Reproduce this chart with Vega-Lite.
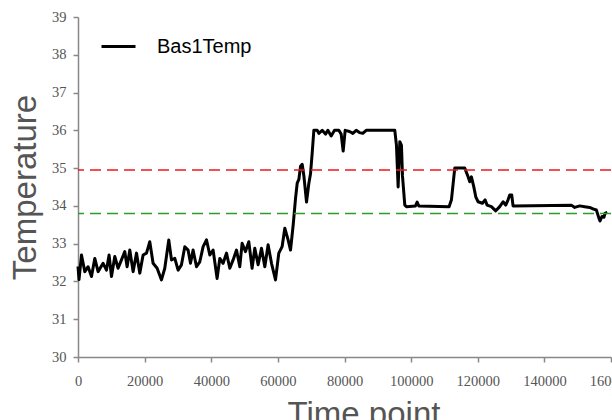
{
  "$schema": "https://vega.github.io/schema/vega-lite/v6.json",
  "width": 533,
  "height": 340,
  "autosize": {"type": "none"},
  "padding": {"left": 78, "top": 17, "right": 1, "bottom": 63},
  "background": "white",
  "config": {
    "view": {"stroke": null},
    "axis": {
      "grid": false,
      "domainColor": "#888888",
      "domainWidth": 1.5,
      "tickColor": "#888888",
      "tickWidth": 1.5,
      "tickSize": 5,
      "labelOverlap": false,
      "labelFont": "Liberation Serif",
      "labelFontSize": 14.5,
      "labelColor": "#555555",
      "titleFont": "Liberation Sans",
      "titleFontSize": 33,
      "titleFontWeight": "normal",
      "titleColor": "#555555"
    }
  },
  "encoding": {
    "y": {
      "field": "v",
      "type": "quantitative",
      "scale": {"domain": [30, 39], "nice": false, "zero": false},
      "axis": {
        "values": [30, 31, 32, 33, 34, 35, 36, 37, 38, 39],
        "tickCount": 10,
        "labelOverlap": false,
        "format": "d",
        "labelPadding": 7,
        "title": "Temperature",
        "titleX": -43,
        "titleY": 170,
        "titleAngle": 270,
        "titleAlign": "center",
        "titleBaseline": "alphabetic"
      }
    }
  },
  "layer": [
    {
      "data": {
        "values": [
          {"t": 0, "v": 32.4, "s": "Bas1Temp"},
          {"t": 300, "v": 32.05, "s": "Bas1Temp"},
          {"t": 1050, "v": 32.7, "s": "Bas1Temp"},
          {"t": 2040, "v": 32.26, "s": "Bas1Temp"},
          {"t": 3030, "v": 32.39, "s": "Bas1Temp"},
          {"t": 4050, "v": 32.13, "s": "Bas1Temp"},
          {"t": 5040, "v": 32.61, "s": "Bas1Temp"},
          {"t": 6030, "v": 32.26, "s": "Bas1Temp"},
          {"t": 7530, "v": 32.48, "s": "Bas1Temp"},
          {"t": 8550, "v": 32.3, "s": "Bas1Temp"},
          {"t": 9330, "v": 32.7, "s": "Bas1Temp"},
          {"t": 10050, "v": 32.13, "s": "Bas1Temp"},
          {"t": 11040, "v": 32.66, "s": "Bas1Temp"},
          {"t": 12030, "v": 32.35, "s": "Bas1Temp"},
          {"t": 13050, "v": 32.57, "s": "Bas1Temp"},
          {"t": 14040, "v": 32.79, "s": "Bas1Temp"},
          {"t": 14740, "v": 32.39, "s": "Bas1Temp"},
          {"t": 15550, "v": 32.83, "s": "Bas1Temp"},
          {"t": 16540, "v": 32.26, "s": "Bas1Temp"},
          {"t": 17560, "v": 32.75, "s": "Bas1Temp"},
          {"t": 18550, "v": 32.22, "s": "Bas1Temp"},
          {"t": 19540, "v": 32.7, "s": "Bas1Temp"},
          {"t": 20560, "v": 32.75, "s": "Bas1Temp"},
          {"t": 21550, "v": 33.05, "s": "Bas1Temp"},
          {"t": 22540, "v": 32.48, "s": "Bas1Temp"},
          {"t": 23750, "v": 32.35, "s": "Bas1Temp"},
          {"t": 25060, "v": 32.04, "s": "Bas1Temp"},
          {"t": 26050, "v": 32.35, "s": "Bas1Temp"},
          {"t": 27250, "v": 33.1, "s": "Bas1Temp"},
          {"t": 28060, "v": 32.57, "s": "Bas1Temp"},
          {"t": 29060, "v": 32.61, "s": "Bas1Temp"},
          {"t": 30050, "v": 32.3, "s": "Bas1Temp"},
          {"t": 31060, "v": 32.44, "s": "Bas1Temp"},
          {"t": 32060, "v": 32.92, "s": "Bas1Temp"},
          {"t": 33050, "v": 32.83, "s": "Bas1Temp"},
          {"t": 33770, "v": 32.48, "s": "Bas1Temp"},
          {"t": 34550, "v": 32.83, "s": "Bas1Temp"},
          {"t": 35570, "v": 32.39, "s": "Bas1Temp"},
          {"t": 36560, "v": 32.52, "s": "Bas1Temp"},
          {"t": 37560, "v": 32.92, "s": "Bas1Temp"},
          {"t": 38570, "v": 33.1, "s": "Bas1Temp"},
          {"t": 39570, "v": 32.7, "s": "Bas1Temp"},
          {"t": 40560, "v": 32.83, "s": "Bas1Temp"},
          {"t": 41760, "v": 32.08, "s": "Bas1Temp"},
          {"t": 42570, "v": 32.61, "s": "Bas1Temp"},
          {"t": 43560, "v": 32.48, "s": "Bas1Temp"},
          {"t": 44580, "v": 32.75, "s": "Bas1Temp"},
          {"t": 45570, "v": 32.35, "s": "Bas1Temp"},
          {"t": 46560, "v": 32.57, "s": "Bas1Temp"},
          {"t": 47580, "v": 32.83, "s": "Bas1Temp"},
          {"t": 48570, "v": 32.39, "s": "Bas1Temp"},
          {"t": 49260, "v": 33.01, "s": "Bas1Temp"},
          {"t": 50280, "v": 32.79, "s": "Bas1Temp"},
          {"t": 51270, "v": 33.05, "s": "Bas1Temp"},
          {"t": 52260, "v": 32.35, "s": "Bas1Temp"},
          {"t": 53070, "v": 32.88, "s": "Bas1Temp"},
          {"t": 54070, "v": 32.44, "s": "Bas1Temp"},
          {"t": 55080, "v": 32.88, "s": "Bas1Temp"},
          {"t": 56080, "v": 32.39, "s": "Bas1Temp"},
          {"t": 57070, "v": 32.97, "s": "Bas1Temp"},
          {"t": 58090, "v": 32.48, "s": "Bas1Temp"},
          {"t": 59290, "v": 32.04, "s": "Bas1Temp"},
          {"t": 60280, "v": 32.75, "s": "Bas1Temp"},
          {"t": 61270, "v": 32.92, "s": "Bas1Temp"},
          {"t": 62080, "v": 33.41, "s": "Bas1Temp"},
          {"t": 63070, "v": 33.1, "s": "Bas1Temp"},
          {"t": 63800, "v": 32.83, "s": "Bas1Temp"},
          {"t": 64600, "v": 33.5, "s": "Bas1Temp"},
          {"t": 65300, "v": 34.2, "s": "Bas1Temp"},
          {"t": 65800, "v": 34.6, "s": "Bas1Temp"},
          {"t": 66300, "v": 34.7, "s": "Bas1Temp"},
          {"t": 66800, "v": 35.05, "s": "Bas1Temp"},
          {"t": 67300, "v": 35.1, "s": "Bas1Temp"},
          {"t": 67800, "v": 34.8, "s": "Bas1Temp"},
          {"t": 68600, "v": 34.1, "s": "Bas1Temp"},
          {"t": 69300, "v": 34.6, "s": "Bas1Temp"},
          {"t": 69800, "v": 34.85, "s": "Bas1Temp"},
          {"t": 70300, "v": 35.4, "s": "Bas1Temp"},
          {"t": 70800, "v": 36.0, "s": "Bas1Temp"},
          {"t": 71800, "v": 36.0, "s": "Bas1Temp"},
          {"t": 72300, "v": 35.92, "s": "Bas1Temp"},
          {"t": 73300, "v": 36.0, "s": "Bas1Temp"},
          {"t": 74300, "v": 35.9, "s": "Bas1Temp"},
          {"t": 75000, "v": 36.0, "s": "Bas1Temp"},
          {"t": 76000, "v": 35.85, "s": "Bas1Temp"},
          {"t": 77000, "v": 36.0, "s": "Bas1Temp"},
          {"t": 78300, "v": 36.0, "s": "Bas1Temp"},
          {"t": 79000, "v": 35.9, "s": "Bas1Temp"},
          {"t": 79600, "v": 35.45, "s": "Bas1Temp"},
          {"t": 80200, "v": 36.0, "s": "Bas1Temp"},
          {"t": 81500, "v": 35.97, "s": "Bas1Temp"},
          {"t": 82500, "v": 35.92, "s": "Bas1Temp"},
          {"t": 83500, "v": 36.0, "s": "Bas1Temp"},
          {"t": 84500, "v": 35.94, "s": "Bas1Temp"},
          {"t": 85500, "v": 35.92, "s": "Bas1Temp"},
          {"t": 86500, "v": 36.0, "s": "Bas1Temp"},
          {"t": 95100, "v": 36.0, "s": "Bas1Temp"},
          {"t": 95600, "v": 35.6, "s": "Bas1Temp"},
          {"t": 96100, "v": 34.5, "s": "Bas1Temp"},
          {"t": 96600, "v": 35.7, "s": "Bas1Temp"},
          {"t": 97100, "v": 35.6, "s": "Bas1Temp"},
          {"t": 97400, "v": 34.8, "s": "Bas1Temp"},
          {"t": 98100, "v": 34.02, "s": "Bas1Temp"},
          {"t": 98600, "v": 33.98, "s": "Bas1Temp"},
          {"t": 101300, "v": 34.0, "s": "Bas1Temp"},
          {"t": 101800, "v": 34.1, "s": "Bas1Temp"},
          {"t": 102300, "v": 34.0, "s": "Bas1Temp"},
          {"t": 111400, "v": 33.98, "s": "Bas1Temp"},
          {"t": 112100, "v": 34.16, "s": "Bas1Temp"},
          {"t": 113100, "v": 35.0, "s": "Bas1Temp"},
          {"t": 116100, "v": 35.0, "s": "Bas1Temp"},
          {"t": 117100, "v": 34.77, "s": "Bas1Temp"},
          {"t": 117600, "v": 34.64, "s": "Bas1Temp"},
          {"t": 118100, "v": 34.77, "s": "Bas1Temp"},
          {"t": 118800, "v": 34.51, "s": "Bas1Temp"},
          {"t": 119400, "v": 34.24, "s": "Bas1Temp"},
          {"t": 120100, "v": 34.11, "s": "Bas1Temp"},
          {"t": 121400, "v": 34.07, "s": "Bas1Temp"},
          {"t": 122200, "v": 34.16, "s": "Bas1Temp"},
          {"t": 122800, "v": 34.02, "s": "Bas1Temp"},
          {"t": 124100, "v": 33.98, "s": "Bas1Temp"},
          {"t": 125400, "v": 33.87, "s": "Bas1Temp"},
          {"t": 126600, "v": 33.98, "s": "Bas1Temp"},
          {"t": 127600, "v": 34.11, "s": "Bas1Temp"},
          {"t": 128400, "v": 34.02, "s": "Bas1Temp"},
          {"t": 129100, "v": 34.16, "s": "Bas1Temp"},
          {"t": 129600, "v": 34.29, "s": "Bas1Temp"},
          {"t": 130200, "v": 34.29, "s": "Bas1Temp"},
          {"t": 130600, "v": 34.0, "s": "Bas1Temp"},
          {"t": 148100, "v": 34.02, "s": "Bas1Temp"},
          {"t": 149100, "v": 33.96, "s": "Bas1Temp"},
          {"t": 150600, "v": 34.0, "s": "Bas1Temp"},
          {"t": 152100, "v": 33.98, "s": "Bas1Temp"},
          {"t": 153600, "v": 33.96, "s": "Bas1Temp"},
          {"t": 154600, "v": 33.92, "s": "Bas1Temp"},
          {"t": 155600, "v": 33.89, "s": "Bas1Temp"},
          {"t": 156400, "v": 33.67, "s": "Bas1Temp"},
          {"t": 156700, "v": 33.6, "s": "Bas1Temp"},
          {"t": 157300, "v": 33.72, "s": "Bas1Temp"},
          {"t": 157900, "v": 33.7, "s": "Bas1Temp"},
          {"t": 158200, "v": 33.8, "s": "Bas1Temp"},
          {"t": 158900, "v": 33.83, "s": "Bas1Temp"}
        ]
      },
      "mark": {"type": "line", "strokeWidth": 3, "strokeJoin": "round"},
      "encoding": {
        "x": {
          "field": "t",
          "type": "quantitative",
          "scale": {"domain": [0, 160000], "nice": false, "zero": false},
          "axis": {
            "values": [0, 20000, 40000, 60000, 80000, 100000, 120000, 140000, 160000],
            "format": "d",
            "labelFlush": false,
            "labelPadding": 12,
            "title": "Time point",
            "titleX": 285.5,
            "titleY": 67,
            "titleAlign": "center",
            "titleBaseline": "alphabetic"
          }
        },
        "color": {
          "field": "s",
          "type": "nominal",
          "scale": {"range": ["black"]},
          "legend": {
            "orient": "none",
            "legendX": 22,
            "legendY": 11,
            "title": null,
            "padding": 0,
            "symbolType": "stroke",
            "symbolSize": 1156,
            "symbolStrokeWidth": 3,
            "symbolStrokeColor": "black",
            "labelFont": "Liberation Sans",
            "labelFontSize": 20,
            "labelColor": "black",
            "labelOffset": 20
          }
        }
      }
    },
    {
      "data": {"values": [{"v": 34.95}]},
      "mark": {"type": "rule", "color": "#f01818", "strokeDash": [11, 6], "strokeWidth": 1.6}
    },
    {
      "data": {"values": [{"v": 33.8}]},
      "mark": {"type": "rule", "color": "#2a9d2a", "strokeDash": [11, 6], "strokeWidth": 1.6}
    }
  ]
}
